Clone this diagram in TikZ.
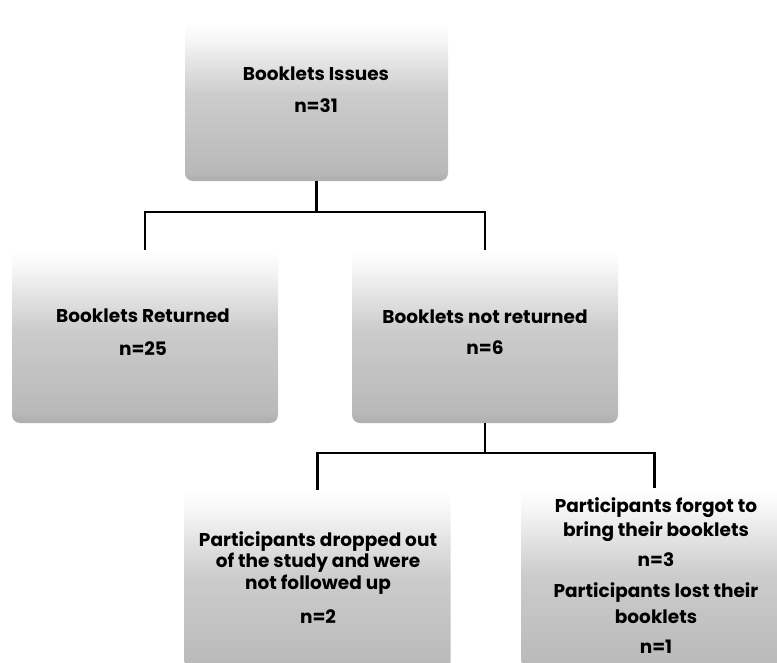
\documentclass[tikz,border=0pt]{standalone}
\usepackage{fontspec}
\setmainfont{Poppins}
\pgfdeclareverticalshading{boxshade}{100bp}{color(0bp)=(gray!64); color(25bp)=(gray!64); color(28bp)=(gray!55); color(52bp)=(gray!40); color(64bp)=(gray!18); color(70bp)=(gray!6); color(75bp)=(white); color(100bp)=(white)}
\begin{document}
\begin{tikzpicture}[x=1pt,y=-1pt,
  box/.style={rounded corners=8pt, shading=boxshade, minimum width=266pt, inner sep=0pt},
  txt/.style={font=\bfseries\fontsize{18.5}{21}\selectfont, inner sep=0pt, text=black},
  conn/.style={line width=2.2pt, black}]
\useasboundingbox (0,0) rectangle (777,662);
\clip (0,0) rectangle (777,662);
% boxes
\node[box, minimum width=263pt, minimum height=159pt] (top) at (316.5,101.5) {};
\node[box, minimum height=173pt] (ret) at (145,336.5) {};
\node[box, minimum height=173pt] (nret) at (485,336.5) {};
\node[box, minimum height=190pt] (drop) at (317.5,585) {};
\node[box, minimum height=190pt] (forgot) at (654.5,583) {};
% texts
\node[txt] (t1) at (316,74) {Booklets Issues};
\node[txt] (t2) at (316,106) {n=31};
\node[txt] (r1) at (143,316) {Booklets Returned};
\node[txt] (r2) at (143,349) {n=25};
\node[txt] (n1) at (485,317) {Booklets not returned};
\node[txt] (n2) at (485,348) {n=6};
\node[txt] (d1) at (318,542) {Participants dropped out};
\node[txt] (d2) at (318,563) {of the study and were};
\node[txt] (d3) at (318,585) {not followed up};
\node[txt] (d4) at (318,617) {n=2};
\node[txt] (f1) at (656,508) {Participants forgot to};
\node[txt] (f2) at (656,532) {bring their booklets};
\node[txt] (f3) at (656,560) {n=3};
\node[txt] (f4) at (656,593) {Participants lost their};
\node[txt] (f5) at (656,617) {booklets};
\node[txt] (f6) at (656,647) {n=1};
% connectors
\draw[conn] (top.south) -- ++(0,31);
\draw[conn] (ret.north) -- ++(0,-38) -| (nret.north);
\draw[conn] (nret.south) -- ++(0,30);
\draw[conn] (drop.north) -- ++(0,-37) -| (forgot.north);
\end{tikzpicture}
\end{document}
